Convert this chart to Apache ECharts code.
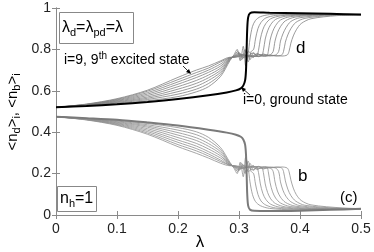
<!DOCTYPE html>
<html><head><meta charset="utf-8">
<script src="https://cdn.jsdelivr.net/npm/echarts@6/dist/echarts.min.js"></script>
<style>html,body{margin:0;padding:0;background:#fff}#c{width:374px;height:252px}</style>
</head><body><div id="c"></div>
<script>
// x ticks / y ticks
const xTicks = [0, 0.1, 0.2, 0.3, 0.4, 0.5];
const yTicks = [0, 0.2, 0.4, 0.6, 0.8, 1];

// <n_d>_i curves, [lambda, value]
const d0 = [[0,0.52],[0.05,0.527],[0.1,0.535],[0.15,0.546],[0.2,0.56],[0.25,0.578],[0.28,0.592],[0.295,0.602],[0.303,0.612],[0.307,0.625],[0.31,0.65],[0.3115,0.7],[0.3125,0.8],[0.3135,0.9],[0.315,0.955],[0.318,0.975],[0.325,0.979],[0.35,0.977],[0.4,0.975],[0.45,0.972],[0.5,0.968]];
const d1 = [[0,0.52],[0.05,0.528],[0.1,0.538],[0.15,0.552],[0.2,0.572],[0.23,0.595],[0.25,0.62],[0.27,0.67],[0.285,0.745],[0.292,0.775],[0.297,0.8],[0.302,0.745],[0.307,0.815],[0.311,0.72],[0.315,0.78],[0.318,0.85],[0.322,0.91],[0.327,0.94],[0.335,0.958],[0.35,0.968],[0.38,0.972],[0.42,0.972],[0.46,0.97],[0.5,0.968]];
const d2 = [[0,0.52],[0.05,0.529],[0.1,0.541],[0.15,0.558],[0.2,0.584],[0.23,0.608],[0.25,0.635],[0.27,0.68],[0.285,0.75],[0.292,0.77],[0.298,0.79],[0.304,0.75],[0.31,0.8],[0.315,0.74],[0.32,0.79],[0.324,0.8],[0.327,0.85],[0.331,0.9],[0.336,0.93],[0.344,0.952],[0.36,0.964],[0.39,0.97],[0.43,0.971],[0.5,0.968]];
const d3 = [[0,0.52],[0.05,0.53],[0.1,0.544],[0.15,0.564],[0.2,0.596],[0.23,0.622],[0.25,0.65],[0.27,0.69],[0.285,0.752],[0.292,0.768],[0.3,0.785],[0.306,0.755],[0.312,0.795],[0.318,0.75],[0.324,0.785],[0.329,0.77],[0.332,0.795],[0.335,0.85],[0.339,0.895],[0.344,0.925],[0.352,0.948],[0.368,0.962],[0.4,0.969],[0.44,0.97],[0.5,0.968]];
const d4 = [[0,0.52],[0.05,0.531],[0.1,0.547],[0.15,0.57],[0.2,0.608],[0.23,0.636],[0.25,0.663],[0.27,0.7],[0.285,0.755],[0.292,0.766],[0.3,0.78],[0.308,0.76],[0.316,0.79],[0.323,0.76],[0.33,0.78],[0.337,0.77],[0.34,0.795],[0.343,0.85],[0.347,0.89],[0.352,0.92],[0.36,0.945],[0.376,0.96],[0.41,0.968],[0.45,0.97],[0.5,0.968]];
const d5 = [[0,0.52],[0.05,0.532],[0.1,0.55],[0.15,0.577],[0.2,0.62],[0.23,0.65],[0.25,0.676],[0.27,0.71],[0.285,0.757],[0.292,0.765],[0.302,0.778],[0.312,0.762],[0.322,0.782],[0.332,0.765],[0.34,0.778],[0.346,0.772],[0.348,0.79],[0.351,0.845],[0.355,0.885],[0.36,0.915],[0.368,0.942],[0.384,0.958],[0.42,0.967],[0.46,0.969],[0.5,0.968]];
const d6 = [[0,0.52],[0.05,0.533],[0.1,0.553],[0.15,0.584],[0.2,0.632],[0.23,0.664],[0.25,0.689],[0.27,0.72],[0.285,0.758],[0.292,0.764],[0.305,0.776],[0.318,0.764],[0.33,0.778],[0.342,0.766],[0.352,0.775],[0.356,0.79],[0.359,0.84],[0.363,0.88],[0.368,0.91],[0.376,0.938],[0.392,0.956],[0.43,0.966],[0.47,0.968],[0.5,0.968]];
const d7 = [[0,0.52],[0.05,0.534],[0.1,0.556],[0.15,0.591],[0.2,0.643],[0.23,0.676],[0.25,0.7],[0.27,0.73],[0.285,0.76],[0.292,0.763],[0.308,0.774],[0.322,0.765],[0.336,0.775],[0.35,0.768],[0.36,0.773],[0.365,0.79],[0.368,0.84],[0.372,0.875],[0.377,0.905],[0.385,0.935],[0.4,0.953],[0.44,0.965],[0.48,0.968],[0.5,0.968]];
const d8 = [[0,0.52],[0.05,0.535],[0.1,0.559],[0.15,0.598],[0.2,0.654],[0.23,0.688],[0.25,0.71],[0.27,0.74],[0.285,0.76],[0.292,0.762],[0.31,0.772],[0.328,0.766],[0.345,0.774],[0.36,0.768],[0.37,0.773],[0.373,0.79],[0.376,0.835],[0.38,0.87],[0.385,0.9],[0.393,0.93],[0.408,0.95],[0.45,0.964],[0.5,0.967]];
const d9 = [[0,0.52],[0.05,0.536],[0.1,0.562],[0.15,0.603],[0.2,0.665],[0.23,0.7],[0.25,0.72],[0.27,0.745],[0.285,0.762],[0.292,0.762],[0.312,0.77],[0.332,0.766],[0.352,0.772],[0.37,0.768],[0.379,0.773],[0.382,0.79],[0.385,0.83],[0.389,0.865],[0.394,0.895],[0.402,0.925],[0.418,0.948],[0.46,0.963],[0.5,0.967]];

// <n_b>_i curves, [lambda, value]
const b0 = [[0,0.475],[0.05,0.468],[0.1,0.46],[0.15,0.447],[0.2,0.432],[0.25,0.412],[0.28,0.398],[0.295,0.388],[0.303,0.378],[0.307,0.365],[0.31,0.34],[0.3115,0.29],[0.3125,0.2],[0.3135,0.1],[0.315,0.045],[0.318,0.026],[0.325,0.02],[0.35,0.019],[0.4,0.021],[0.45,0.025],[0.5,0.03]];
const b1 = [[0,0.475],[0.05,0.467],[0.1,0.457],[0.15,0.442],[0.2,0.422],[0.23,0.402],[0.25,0.375],[0.27,0.325],[0.285,0.255],[0.292,0.225],[0.297,0.2],[0.302,0.255],[0.307,0.185],[0.311,0.28],[0.315,0.23],[0.318,0.16],[0.322,0.1],[0.327,0.065],[0.335,0.045],[0.35,0.032],[0.39,0.025],[0.44,0.026],[0.5,0.03]];
const b2 = [[0,0.475],[0.05,0.466],[0.1,0.454],[0.15,0.436],[0.2,0.41],[0.23,0.388],[0.25,0.36],[0.27,0.315],[0.285,0.25],[0.292,0.23],[0.298,0.21],[0.304,0.25],[0.31,0.2],[0.315,0.26],[0.32,0.21],[0.324,0.2],[0.327,0.15],[0.331,0.1],[0.336,0.068],[0.344,0.048],[0.36,0.034],[0.4,0.027],[0.45,0.027],[0.5,0.03]];
const b3 = [[0,0.475],[0.05,0.465],[0.1,0.451],[0.15,0.43],[0.2,0.398],[0.23,0.373],[0.25,0.345],[0.27,0.305],[0.285,0.248],[0.292,0.232],[0.3,0.215],[0.306,0.245],[0.312,0.205],[0.318,0.25],[0.324,0.215],[0.329,0.23],[0.332,0.205],[0.335,0.15],[0.339,0.105],[0.344,0.075],[0.352,0.052],[0.368,0.037],[0.41,0.028],[0.46,0.028],[0.5,0.03]];
const b4 = [[0,0.475],[0.05,0.464],[0.1,0.448],[0.15,0.424],[0.2,0.386],[0.23,0.36],[0.25,0.332],[0.27,0.295],[0.285,0.245],[0.292,0.234],[0.3,0.22],[0.308,0.24],[0.316,0.21],[0.323,0.24],[0.33,0.22],[0.337,0.23],[0.34,0.205],[0.343,0.15],[0.347,0.108],[0.352,0.078],[0.36,0.055],[0.376,0.039],[0.42,0.029],[0.47,0.029],[0.5,0.03]];
const b5 = [[0,0.475],[0.05,0.463],[0.1,0.445],[0.15,0.417],[0.2,0.374],[0.23,0.346],[0.25,0.319],[0.27,0.285],[0.285,0.243],[0.292,0.235],[0.302,0.222],[0.312,0.238],[0.322,0.218],[0.332,0.235],[0.34,0.222],[0.346,0.228],[0.348,0.21],[0.351,0.155],[0.355,0.112],[0.36,0.082],[0.368,0.058],[0.384,0.041],[0.43,0.03],[0.5,0.03]];
const b6 = [[0,0.475],[0.05,0.462],[0.1,0.442],[0.15,0.41],[0.2,0.362],[0.23,0.333],[0.25,0.306],[0.27,0.275],[0.285,0.242],[0.292,0.236],[0.305,0.224],[0.318,0.236],[0.33,0.222],[0.342,0.234],[0.352,0.226],[0.356,0.21],[0.359,0.16],[0.363,0.116],[0.368,0.086],[0.376,0.061],[0.392,0.043],[0.44,0.031],[0.5,0.03]];
const b7 = [[0,0.475],[0.05,0.461],[0.1,0.439],[0.15,0.403],[0.2,0.351],[0.23,0.321],[0.25,0.295],[0.27,0.265],[0.285,0.24],[0.292,0.237],[0.308,0.226],[0.322,0.235],[0.336,0.225],[0.35,0.232],[0.36,0.227],[0.365,0.21],[0.368,0.16],[0.372,0.12],[0.377,0.09],[0.385,0.064],[0.4,0.045],[0.45,0.032],[0.5,0.03]];
const b8 = [[0,0.475],[0.05,0.46],[0.1,0.436],[0.15,0.396],[0.2,0.34],[0.23,0.31],[0.25,0.285],[0.27,0.258],[0.285,0.24],[0.292,0.238],[0.31,0.228],[0.328,0.234],[0.345,0.226],[0.36,0.232],[0.37,0.227],[0.373,0.21],[0.376,0.165],[0.38,0.125],[0.385,0.094],[0.393,0.067],[0.408,0.047],[0.46,0.033],[0.5,0.031]];
const b9 = [[0,0.475],[0.05,0.459],[0.1,0.433],[0.15,0.39],[0.2,0.33],[0.23,0.298],[0.25,0.275],[0.27,0.25],[0.285,0.238],[0.292,0.238],[0.312,0.23],[0.332,0.234],[0.352,0.228],[0.37,0.232],[0.379,0.227],[0.382,0.21],[0.385,0.17],[0.389,0.13],[0.394,0.098],[0.402,0.07],[0.418,0.049],[0.47,0.034],[0.5,0.031]];

const dGray = [d1,d2,d3,d4,d5,d6,d7,d8,d9];
const bGray = [b1,b2,b3,b4,b5,b6,b7,b8,b9];

const chart = echarts.init(document.getElementById('c'), null, {renderer:'canvas'});
const FONT = 'Liberation Sans, Arial, sans-serif';
const axisCol = '#8a8a8a';

function lineSeries(data, color, width, z) {
  return {type:'line', data:data, showSymbol:false, smooth:0.3,
    lineStyle:{color:color, width:width}, z:z, silent:true, animation:false};
}
const series = [];
bGray.forEach(a => series.push(lineSeries(a, '#8f8f8f', 0.8, 2)));
dGray.forEach(a => series.push(lineSeries(a, '#808080', 0.8, 2)));
series.push(lineSeries(b0, '#7a7a7a', 2, 3));
series.push(lineSeries(d0, '#000000', 2, 3));

const axisCommon = {
  type:'value', splitLine:{show:false},
  axisLine:{show:true, lineStyle:{color:axisCol, width:1}},
  axisTick:{show:true, inside:true, length:4, lineStyle:{color:axisCol}},
};
chart.setOption({
  animation:false,
  grid:{left:56, right:13, top:8, bottom:37, containLabel:false},
  xAxis:[
    Object.assign({}, axisCommon, {min:xTicks[0], max:xTicks[xTicks.length-1], interval:0.1, position:'bottom',
      axisLabel:{color:'#222', fontSize:14, fontFamily:FONT, margin:7}}),
    Object.assign({}, axisCommon, {min:xTicks[0], max:xTicks[xTicks.length-1], interval:0.1, position:'top',
      axisLabel:{show:false}})
  ],
  yAxis:[
    Object.assign({}, axisCommon, {min:yTicks[0], max:yTicks[yTicks.length-1], interval:0.2, position:'left',
      axisLabel:{color:'#222', fontSize:14, fontFamily:FONT, margin:5}}),
    Object.assign({}, axisCommon, {min:yTicks[0], max:yTicks[yTicks.length-1], interval:0.2, position:'right',
      axisLabel:{show:false}})
  ],
  series: series,
  graphic:[
    {type:'rect', shape:{x:59.5, y:12.5, width:74, height:31}, style:{fill:'#fff', stroke:'#888', lineWidth:1}, z:10},
    {type:'text', x:62, y:28, z:11, style:{text:'{m|λ}{s|d}{m|=λ}{s|pd}{m|=λ}', verticalAlign:'middle', align:'left',
      rich:{m:{fontSize:16, fontFamily:FONT, fill:'#000', lineHeight:20, verticalAlign:'middle'},
            s:{fontSize:11, fontFamily:FONT, fill:'#000', lineHeight:11, verticalAlign:'bottom'}}}},
    {type:'rect', shape:{x:57.5, y:186.5, width:39, height:25}, style:{fill:'#fff', stroke:'#888', lineWidth:1}, z:10},
    {type:'text', x:60, y:199, z:11, style:{text:'{m|n}{s|h}{m|=1}', verticalAlign:'middle', align:'left',
      rich:{m:{fontSize:16, fontFamily:FONT, fill:'#000', lineHeight:20, verticalAlign:'middle'},
            s:{fontSize:11, fontFamily:FONT, fill:'#000', lineHeight:11, verticalAlign:'bottom'}}}},
    {type:'text', x:64, y:60, z:11, style:{text:'{m|i=9, 9}{u|th}{m| excited state}', verticalAlign:'middle', align:'left',
      rich:{m:{fontSize:14, fontFamily:FONT, fill:'#000', lineHeight:18, verticalAlign:'middle'},
            u:{fontSize:10, fontFamily:FONT, fill:'#000', lineHeight:10, verticalAlign:'top'}}}},
    {type:'line', shape:{x1:183, y1:66, x2:190, y2:73}, style:{stroke:'#000', lineWidth:0.8}, z:11},
    {type:'polygon', shape:{points:[[191,74],[186,72],[189,69]]}, style:{fill:'#000'}, z:11},
    {type:'text', x:243, y:100, z:11, style:{text:'i=0, ground state', fontSize:14, fontFamily:FONT, fill:'#000', verticalAlign:'middle', align:'left'}},
    {type:'line', shape:{x1:250, y1:95, x2:242, y2:88}, style:{stroke:'#000', lineWidth:0.8}, z:11},
    {type:'polygon', shape:{points:[[241,87],[246,89],[243,92]]}, style:{fill:'#000'}, z:11},
    {type:'text', x:296, y:48, z:11, style:{text:'d', fontSize:17, fontFamily:FONT, fill:'#000', verticalAlign:'middle', align:'left'}},
    {type:'text', x:298, y:176, z:11, style:{text:'b', fontSize:17, fontFamily:FONT, fill:'#000', verticalAlign:'middle', align:'left'}},
    {type:'text', x:340, y:198, z:11, style:{text:'(c)', fontSize:15, fontFamily:FONT, fill:'#000', verticalAlign:'middle', align:'left'}},
    {type:'text', x:200, y:242, z:11, style:{text:'λ', fontSize:17, fontFamily:FONT, fill:'#000', verticalAlign:'middle', align:'center'}},
    {type:'text', x:13, y:112, rotation:Math.PI/2, z:11, style:{text:'{m|<n}{s|d}{m|>}{s|i}{m|, <n}{s|b}{m|>}{s|i}', verticalAlign:'middle', align:'center',
      rich:{m:{fontSize:15, fontFamily:FONT, fill:'#000', lineHeight:19, verticalAlign:'middle'},
            s:{fontSize:11, fontFamily:FONT, fill:'#000', lineHeight:11, verticalAlign:'bottom'}}}}
  ]
});
</script></body></html>
